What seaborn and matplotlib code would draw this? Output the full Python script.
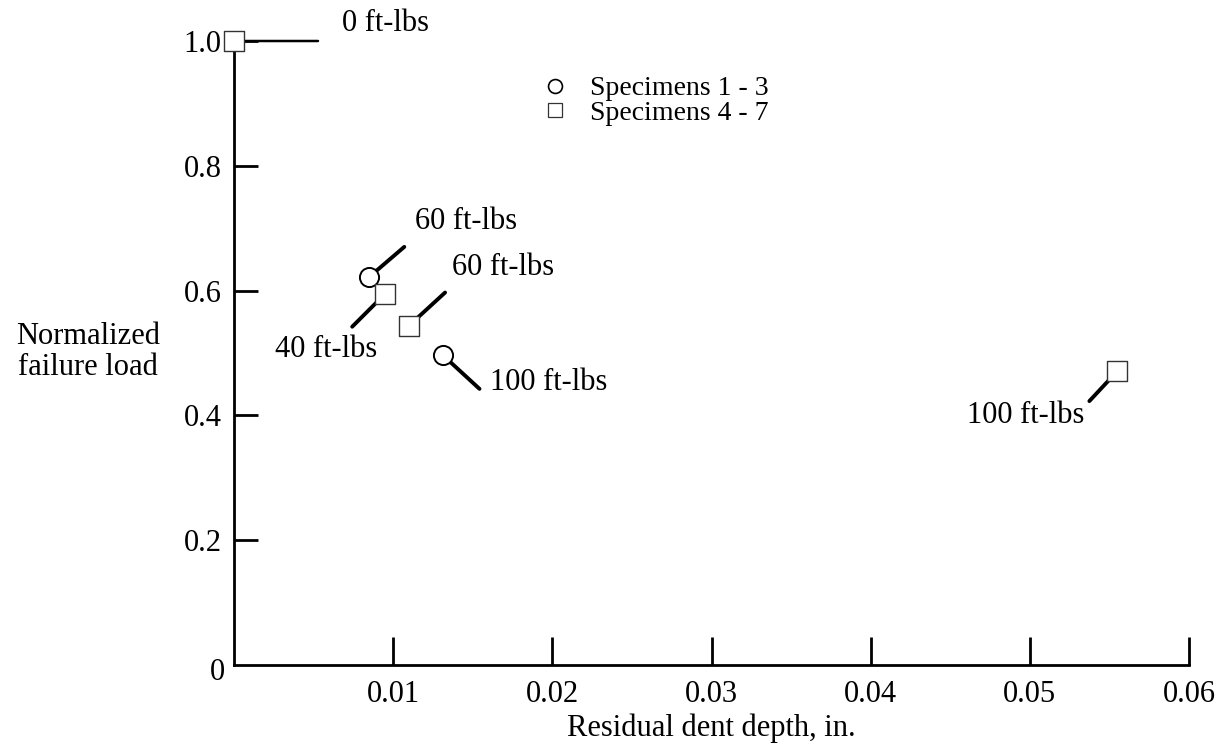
import matplotlib
matplotlib.use("Agg")
import matplotlib.pyplot as plt
from matplotlib.lines import Line2D
import seaborn as sns
import pandas as pd

# Residual dent depth (in.) and normalized failure load for each specimen group
group_a_name = "Specimens 1 - 3"
group_a_depth = [0.0085, 0.0131]
group_a_load = [0.622, 0.497]
group_a_energy = ["60 ft-lbs", "100 ft-lbs"]

group_b_name = "Specimens 4 - 7"
group_b_depth = [0.0, 0.0095, 0.0110, 0.0555]
group_b_load = [1.0, 0.595, 0.544, 0.471]
group_b_energy = ["0 ft-lbs", "40 ft-lbs", "60 ft-lbs", "100 ft-lbs"]

x_ticks = [0.01, 0.02, 0.03, 0.04, 0.05, 0.06]
x_tick_labels = ["0.01", "0.02", "0.03", "0.04", "0.05", "0.06"]
y_ticks = [0.2, 0.4, 0.6, 0.8, 1.0]
y_tick_labels = ["0.2", "0.4", "0.6", "0.8", "1.0"]

df = pd.DataFrame({
    "depth": group_a_depth + group_b_depth,
    "load": group_a_load + group_b_load,
    "group": [group_a_name] * len(group_a_depth) + [group_b_name] * len(group_b_depth),
    "energy": group_a_energy + group_b_energy,
})

FS = 22

sns.set_theme(style="white")
plt.rcParams["font.family"] = ["Liberation Serif", "DejaVu Serif"]
plt.rcParams.update({
    "font.size": FS,
    "text.color": "black",
    "axes.labelcolor": "black",
    "xtick.color": "black",
    "ytick.color": "black",
})

fig = plt.figure(figsize=(12.26, 7.5), dpi=100)
ax = fig.add_axes([234 / 1226, 1 - 665 / 750, (1189 - 234) / 1226, (665 - 41) / 750])

sns.scatterplot(data=df[df["group"] == group_a_name], x="depth", y="load", ax=ax,
                marker="o", s=190, facecolor="white", edgecolor="black",
                linewidth=1.4, zorder=4, legend=False, clip_on=False)
sns.scatterplot(data=df[df["group"] == group_b_name], x="depth", y="load", ax=ax,
                marker="s", s=200, facecolor="white", edgecolor="#333333",
                linewidth=1.0, zorder=4, legend=False, clip_on=False)

ax.set_xlim(0, 0.06)
ax.set_ylim(0, 1.0)
ax.set_xticks(x_ticks)
ax.set_xticklabels(x_tick_labels)
ax.set_yticks(y_ticks)
ax.set_yticklabels(y_tick_labels)
ax.tick_params(axis="both", direction="in", colors="black", labelsize=FS, width=2,
               bottom=True, left=True, top=False, right=False)
ax.tick_params(axis="x", length=20, pad=11)
ax.tick_params(axis="y", length=17, pad=9)
for side in ("top", "right"):
    ax.spines[side].set_visible(False)
for side in ("left", "bottom"):
    ax.spines[side].set_linewidth(2)
    ax.spines[side].set_color("black")

# Shared origin label
ax.annotate("0", xy=(0, 0), xytext=(-9, -8), textcoords="offset pixels",
            ha="right", va="center", fontsize=FS)

ax.set_xlabel("Residual dent depth, in.", fontsize=FS, labelpad=3)
ax.set_ylabel("")
fig.text(88 / 1226, 1 - 352 / 750, "Normalized\nfailure load", ha="center",
         va="center", fontsize=FS, linespacing=1.05)

# Leader lines: (dx, dy) of the line end, label offset, alignment, line width, shrink
callouts = {
    (group_a_name, "60 ft-lbs"): ((35, 30), (46, 55), "left", 2.8, 6),
    (group_a_name, "100 ft-lbs"): ((37, -34), (47, -28), "left", 2.8, 6),
    (group_b_name, "0 ft-lbs"): ((84, 0), (108, 18), "left", 1.8, 5),
    (group_b_name, "40 ft-lbs"): ((-33, -33), (-8, -56), "right", 2.8, 7),
    (group_b_name, "60 ft-lbs"): ((36, 33), (43, 58), "left", 2.8, 7),
    (group_b_name, "100 ft-lbs"): ((-28, -30), (-33, -44), "right", 2.8, 7),
}
for _, row in df.iterrows():
    (ldx, ldy), (tdx, tdy), ha, lw, shrink = callouts[(row["group"], row["energy"])]
    ax.annotate("", xy=(row["depth"], row["load"]), xytext=(ldx, ldy),
                textcoords="offset pixels",
                arrowprops=dict(arrowstyle="-", lw=lw, color="black",
                                shrinkA=0, shrinkB=shrink),
                annotation_clip=False, zorder=3)
    ax.annotate(row["energy"], xy=(row["depth"], row["load"]), xytext=(tdx, tdy),
                textcoords="offset pixels", ha=ha, va="center", fontsize=FS,
                annotation_clip=False)

handles = [
    Line2D([], [], linestyle="none", marker="o", markersize=10,
           markerfacecolor="white", markeredgecolor="black", markeredgewidth=1.2),
    Line2D([], [], linestyle="none", marker="s", markersize=10,
           markerfacecolor="white", markeredgecolor="#333333", markeredgewidth=0.9),
]
fig.legend(handles, [group_a_name, group_b_name], loc="upper left",
           bbox_to_anchor=(541 / 1226, 1 - 76 / 750), frameon=False,
           fontsize=20, handletextpad=0.75, labelspacing=-0.04, borderpad=0,
           borderaxespad=0, handlelength=1.0)

fig.savefig("out.png", dpi=100, facecolor="white")
